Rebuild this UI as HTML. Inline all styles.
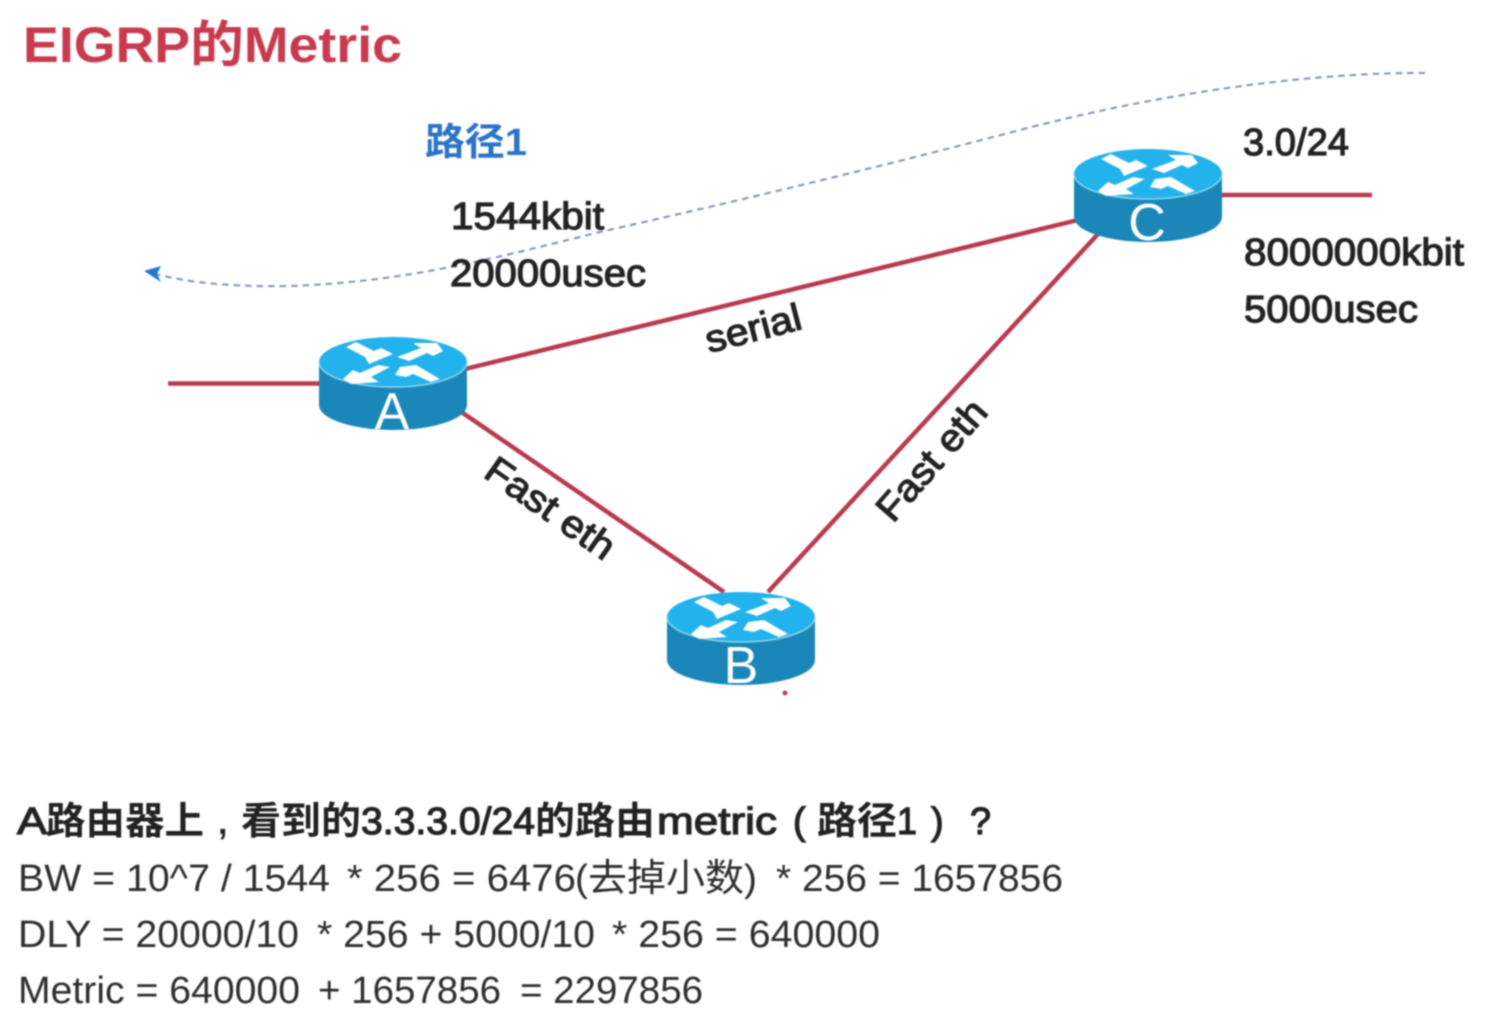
<!DOCTYPE html>
<html><head><meta charset="utf-8"><style>
html,body{margin:0;padding:0;background:#fff;width:1502px;height:1030px;overflow:hidden}
svg{display:block;filter:blur(.7px)}
text{font-family:"Liberation Sans","Noto Sans CJK SC",sans-serif}
.b{font-weight:400;fill:#222;stroke:#222;stroke-width:1.2px}
.c{font-weight:700;fill:#222}
.n{fill:#2e2e2e}
</style></head><body>
<svg width="1502" height="1030" viewBox="0 0 1502 1030" xmlns="http://www.w3.org/2000/svg">
<defs>
<g id="r">
<path d="M-74 0V43A74 25 0 0 0 74 43V0Z" fill="#1b87b8"/>
<ellipse cx="0" cy="0" rx="74" ry="25" fill="#22b2ec"/>
<path d="M-74 0A74 25 0 0 0 74 0" fill="none" stroke="#8fd6ef" stroke-width="1.5"/>
<g fill="#fff">
<path d="M-47 -15L-37 -20L-19 -11L-12 -14L0 -8L-24 2L-28 -5Z"/>
<path d="M4 -5L28 -14L20 -19L44 -19L50 -11L40 -6L34 -9L16 -1Z"/>
<path d="M-50 17L-40 8L-33 11L-15 3L-3 5L-22 15L-14 20L-42 22Z"/>
<path d="M2 13L7 5L23 3L47 17L38 20L20 12L13 15Z"/>
</g>
</g>
</defs>
<text x="23" y="62" font-size="50" font-weight="700" fill="#c83a4e" textLength="379" lengthAdjust="spacingAndGlyphs">EIGRP的Metric</text>
<text x="425" y="155" font-size="38" font-weight="700" fill="#2a74c8" textLength="102" lengthAdjust="spacingAndGlyphs">路径1</text>
<path d="M1425 73C1330 72 1180 88 1020 130C860 172 720 205 600 232C480 262 400 282 290 286C235 287 190 283 155 274" fill="none" stroke="#7d93b8" stroke-width="2" stroke-dasharray="6.500 5"/>
<path d="M144 271L161 266L157 274L161 282Z" fill="#2477cf"/>
<g stroke="#b93a4e" stroke-width="4.500" fill="none">
<path d="M168 383.500H322"/>
<path d="M1218 195H1372"/>
<path d="M465 369L1078 220"/>
<path d="M460 411L724 592"/>
<path d="M768 592L1098 234"/>
</g>
<use href="#r" x="393" y="362"/>
<use href="#r" x="741" y="617"/>
<use href="#r" x="1148" y="174"/>
<g font-size="52" fill="#fff" text-anchor="middle">
<text x="392" y="429">A</text><text x="741" y="683">B</text><text x="1147" y="240">C</text>
</g>
<g font-size="38">
<text class="b" x="451" y="229" textLength="153" lengthAdjust="spacingAndGlyphs">1544kbit</text>
<text class="b" x="450" y="286" textLength="196" lengthAdjust="spacingAndGlyphs">20000usec</text>
<text class="b" x="1243" y="155" textLength="106" lengthAdjust="spacingAndGlyphs">3.0/24</text>
<text class="b" x="1244" y="265" textLength="220" lengthAdjust="spacingAndGlyphs">8000000kbit</text>
<text class="b" x="1244" y="322" textLength="174" lengthAdjust="spacingAndGlyphs">5000usec</text>
<text class="b" transform="translate(709,353) rotate(-14.500)" textLength="98" lengthAdjust="spacingAndGlyphs">serial</text>
<text class="b" transform="translate(482,476) rotate(35)" textLength="149" lengthAdjust="spacingAndGlyphs">Fast eth</text>
<text class="b" transform="translate(893,524) rotate(-49)" textLength="147" lengthAdjust="spacingAndGlyphs">Fast eth</text>
</g>
<circle cx="785" cy="693" r="2.500" fill="#c83a4e"/>
<g font-size="38">
<text class="b" x="17" y="834" textLength="30" lengthAdjust="spacingAndGlyphs">A</text>
<text class="c" x="46" y="834" textLength="158" lengthAdjust="spacingAndGlyphs">路由器上</text>
<text class="c" x="218" y="834" font-size="34">,</text>
<text class="c" x="241" y="834" textLength="120" lengthAdjust="spacingAndGlyphs">看到的</text>
<text class="b" x="361" y="834" textLength="174" lengthAdjust="spacingAndGlyphs">3.3.3.0/24</text>
<text class="c" x="535" y="834" textLength="120" lengthAdjust="spacingAndGlyphs">的路由</text>
<text class="b" x="657" y="834" textLength="120" lengthAdjust="spacingAndGlyphs">metric</text>
<text class="b" x="793" y="834">(</text>
<text class="c" x="817" y="834" textLength="80" lengthAdjust="spacingAndGlyphs">路径</text>
<text class="b" x="897" y="834" textLength="20" lengthAdjust="spacingAndGlyphs">1</text>
<text class="b" x="931" y="834">)</text>
<text class="b" x="970" y="834" textLength="21" lengthAdjust="spacingAndGlyphs">?</text>

<text class="n" x="18" y="891" textLength="312" lengthAdjust="spacingAndGlyphs">BW = 10^7 / 1544</text>
<text class="n" x="347" y="891" textLength="229" lengthAdjust="spacingAndGlyphs">* 256 = 6476</text>
<text class="n" x="575" y="891" textLength="182" lengthAdjust="spacingAndGlyphs">(去掉小数)</text>
<text class="n" x="776" y="891" textLength="287" lengthAdjust="spacingAndGlyphs">* 256 = 1657856</text>

<text class="n" x="18" y="947" textLength="281" lengthAdjust="spacingAndGlyphs">DLY = 20000/10</text>
<text class="n" x="317" y="947" textLength="278" lengthAdjust="spacingAndGlyphs">* 256 + 5000/10</text>
<text class="n" x="612" y="947" textLength="268" lengthAdjust="spacingAndGlyphs">* 256 = 640000</text>

<text class="n" x="18" y="1003" textLength="282" lengthAdjust="spacingAndGlyphs">Metric = 640000</text>
<text class="n" x="318" y="1003" textLength="183" lengthAdjust="spacingAndGlyphs">+ 1657856</text>
<text class="n" x="520" y="1003" textLength="183" lengthAdjust="spacingAndGlyphs">= 2297856</text>
</g>
</svg>
</body></html>
